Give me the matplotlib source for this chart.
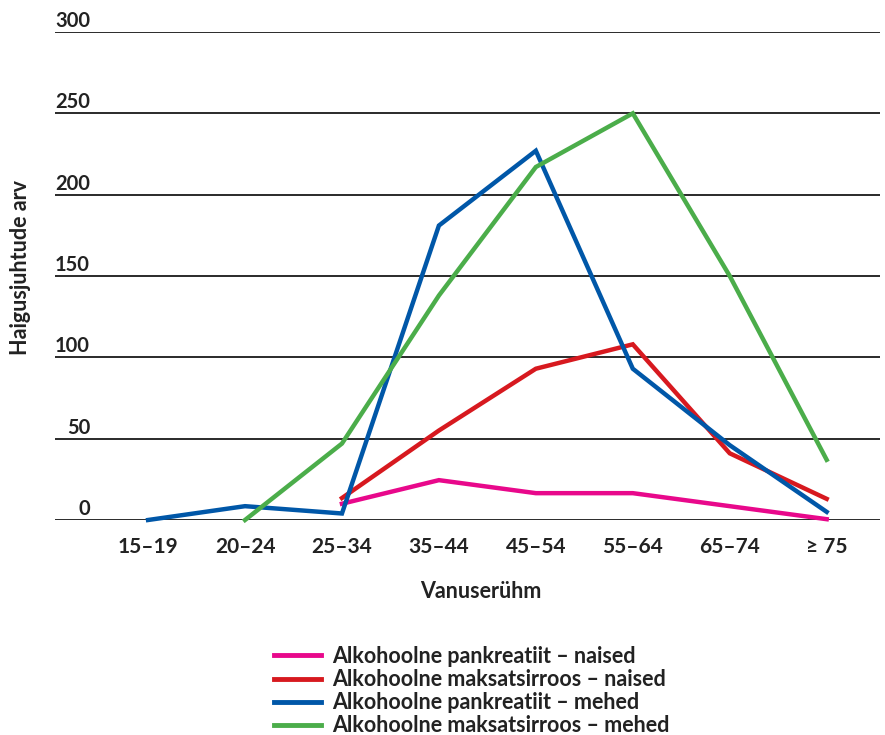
import matplotlib
matplotlib.use("Agg")
import matplotlib.pyplot as plt
import matplotlib.transforms as mtransforms
from matplotlib.lines import Line2D
import numpy as np

plt.rcParams['font.family'] = ['Lato', 'DejaVu Sans']
plt.rcParams['font.weight'] = 'bold'

# age groups
age_groups = ['15–19', '20–24', '25–34', '35–44', '45–54', '55–64', '65–74', '≥ 75']

# case counts (None = no data)
pank_naised = [None, None, 10, 24.5, 16.5, 16.5, 8.5, 0.5]
maks_naised = [None, None, 13.5, 55, 93, 108, 41, 13]
pank_mehed = [0, 8.5, 4, 181, 227, 93, 46, 5]
maks_mehed = [None, 0, 47, 138, 217, 250, 150, 37]

series_labels = ['Alkohoolne pankreatiit – naised',
                 'Alkohoolne maksatsirroos – naised',
                 'Alkohoolne pankreatiit – mehed',
                 'Alkohoolne maksatsirroos – mehed']
colors = ['#e8088b', '#d7191f', '#0057a8', '#4bad4a']

yticks = [0, 50, 100, 150, 200, 250, 300]

fig = plt.figure(figsize=(8.85, 7.35), dpi=100)
ax = fig.add_axes([55 / 885, 215 / 735, 825 / 885, 488 / 735])

x = np.arange(len(age_groups))
handles = []
for vals, col, lab in zip([pank_naised, maks_naised, pank_mehed, maks_mehed], colors, series_labels):
    y = np.array([np.nan if v is None else v for v in vals], dtype=float)
    ax.plot(x, y, color=col, lw=3.2, solid_joinstyle='miter', clip_on=False, zorder=3)
    handles.append(Line2D([], [], color=col, lw=3.5))

ax.set_xlim(-0.96, 7.55)
ax.set_ylim(0, 300)

for s in ax.spines.values():
    s.set_visible(False)

ax.set_yticks(yticks)
ax.yaxis.grid(True, color='#2a2a2a', lw=1.4)
ax.set_axisbelow(True)
ax.tick_params(axis='y', length=0, labelsize=14.5, pad=0, labelcolor='#222222')
offset = mtransforms.ScaledTranslation(0.35, 0.13, fig.dpi_scale_trans)
for lbl in ax.get_yticklabels():
    lbl.set_transform(lbl.get_transform() + offset)
    lbl.set_fontweight('bold')

ax.set_xticks(x)
ax.set_xticklabels(age_groups, fontsize=15, fontweight='bold', color='#222222')
ax.tick_params(axis='x', length=0, pad=12)

ax.set_xlabel('Vanuserühm', fontsize=15.5, fontweight='bold', color='#222222')
ax.xaxis.set_label_coords(0.516, -0.125)
ax.set_ylabel('Haigusjuhtude arv', fontsize=15.5, fontweight='bold', color='#222222')
ax.yaxis.set_label_coords(-0.029, 0.518)

fig.legend(handles, series_labels, loc='upper left',
           bbox_to_anchor=(274 / 885, 1 - 646 / 735), frameon=False,
           handlelength=2.2, handletextpad=0.5,
           labelspacing=0.1, borderpad=0, borderaxespad=0,
           prop={'family': ['Lato', 'DejaVu Sans'], 'weight': 'bold', 'size': 15.5})
for t in fig.legends[0].get_texts():
    t.set_color('#222222')

fig.savefig('out.png', dpi=100)
